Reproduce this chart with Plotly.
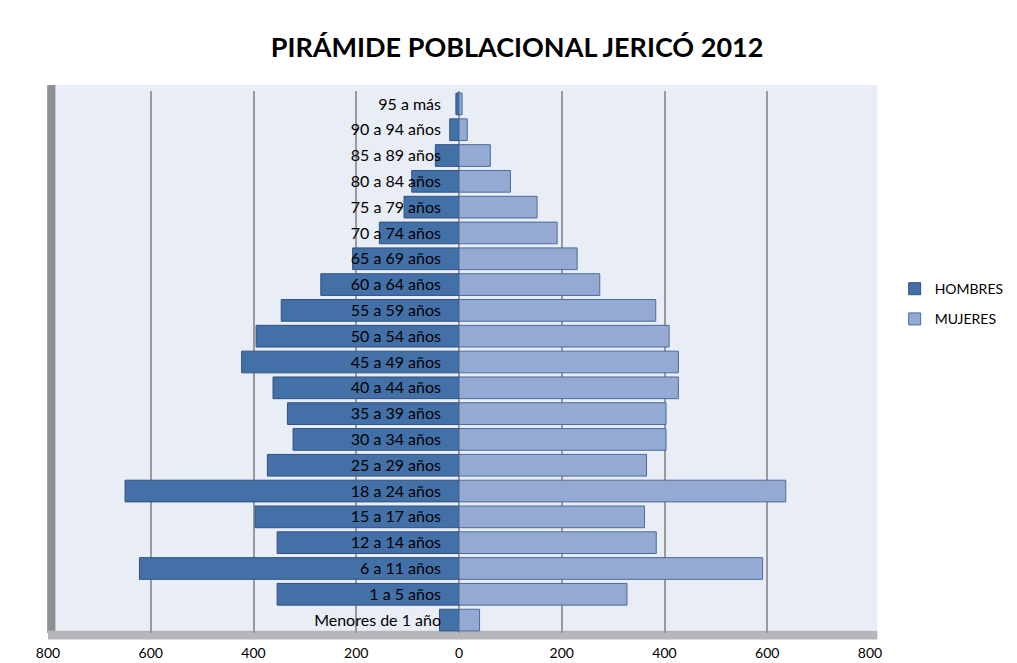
import plotly.graph_objects as go

categories = ["Menores de 1 año", "1 a 5 años", "6 a 11 años", "12 a 14 años", "15 a 17 años",
              "18 a 24 años", "25 a 29 años", "30 a 34 años", "35 a 39 años", "40 a 44 años",
              "45 a 49 años", "50 a 54 años", "55 a 59 años", "60 a 64 años", "65 a 69 años",
              "70 a 74 años", "75 a 79 años", "80 a 84 años", "85 a 89 años", "90 a 94 años",
              "95 a más"]
hombres = [38, 354, 622, 354, 397, 650, 373, 323, 334, 362, 423, 395, 346, 269, 207,
           155, 107, 92, 46, 18, 6]
mujeres = [40, 327, 591, 384, 361, 636, 365, 403, 403, 427, 427, 409, 383, 274, 230,
           191, 152, 100, 61, 16, 6]
tick_vals = [-800, -600, -400, -200, 0, 200, 400, 600, 800]
tick_text = ["800", "600", "400", "200", "0", "200", "400", "600", "800"]

WALL = "#E9EDF6"

fig = go.Figure()
fig.add_trace(go.Bar(
    y=categories, x=[-v for v in hombres], orientation="h", name="HOMBRES",
    legendgroup="h",
    marker=dict(color="#4470A8", line=dict(color="#2F5283", width=1)),
))
fig.add_trace(go.Bar(
    y=categories, x=mujeres, orientation="h", name="MUJERES",
    legendgroup="m",
    marker=dict(color="#95AAD3", line=dict(color="#4A6B9E", width=1)),
))

fig.update_layout(
    width=1009, height=655,
    barmode="overlay", bargap=0.16,
    paper_bgcolor="white", plot_bgcolor=WALL,
    margin=dict(l=40, r=147, t=83, b=30, autoexpand=False),
    font=dict(family="Lato, Carlito, sans-serif", size=13, color="#000"),
    title=dict(text="<b>PIRÁMIDE POBLACIONAL JERICÓ 2012</b>", x=0.5045, xanchor="center",
               y=0.939, yanchor="middle", font=dict(size=27, family="Lato, sans-serif", color="#000")),
    legend=dict(x=1.03, y=0.664, xanchor="left", yanchor="top",
                traceorder="grouped", font=dict(size=14), tracegroupgap=9, itemwidth=30,
                bgcolor="rgba(0,0,0,0)"),
    xaxis=dict(range=[-800, 800], tickvals=tick_vals, ticktext=tick_text,
               showgrid=True, gridcolor="#9A9A9A", gridwidth=1.5,
               zeroline=True, zerolinecolor="#9A9A9A", zerolinewidth=1.5,
               tickfont=dict(size=14, family="Lato, sans-serif"), ticks="", showline=False,
               ticklabelstandoff=10, automargin=False, fixedrange=True),
    yaxis=dict(categoryorder="array", categoryarray=categories,
               anchor="free", position=0.5, ticks="", showgrid=False,
               ticklabelstandoff=18, tickfont=dict(size=16, family="Lato, sans-serif"),
               showline=False, zeroline=False, automargin=False, fixedrange=True),
    shapes=[
        dict(type="rect", xref="paper", yref="paper", x0=0.008, x1=1.009, y0=0.004, y1=1.011,
             fillcolor=WALL, line=dict(width=0), layer="below"),
        dict(type="rect", xref="paper", yref="paper", x0=-0.001, x1=0.009, y0=0, y1=1.011,
             fillcolor="#8E9094", line=dict(width=0), layer="below"),
        dict(type="rect", xref="paper", yref="paper", x0=0, x1=1.009, y0=-0.012, y1=0.004,
             fillcolor="#B4B6BA", line=dict(width=0), layer="below"),
    ],
)

fig.write_html("out.html")
